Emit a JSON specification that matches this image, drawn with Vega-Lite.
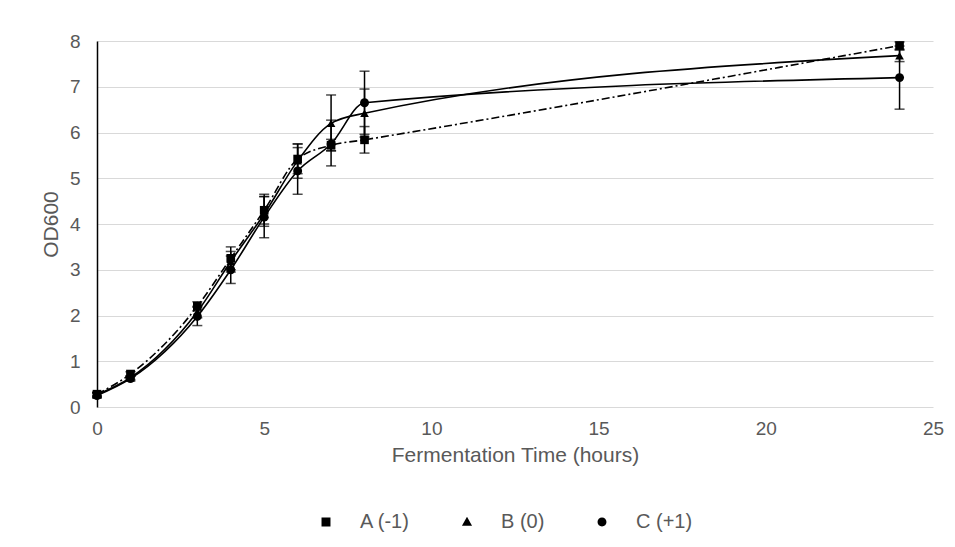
{
  "$schema": "https://vega.github.io/schema/vega-lite/v6.json",
  "width": 836,
  "height": 366,
  "autosize": {"type": "none"},
  "padding": {"left": 97, "top": 41, "right": 22, "bottom": 140},
  "background": "white",
  "config": {
    "view": {"stroke": null},
    "font": "Liberation Sans",
    "axis": {"labelColor": "#595959", "titleColor": "#595959", "labelFontSize": 19, "titleFontSize": 21, "titleFontWeight": "normal", "gridColor": "#d9d9d9", "gridWidth": 1, "labelFlush": false}
  },
  "data": {"values": [
    {"series": "A (-1)", "t": 0, "od": 0.28, "lo": 0.24, "hi": 0.32},
    {"series": "A (-1)", "t": 1, "od": 0.72, "lo": 0.67, "hi": 0.77},
    {"series": "A (-1)", "t": 3, "od": 2.2, "lo": 2.1, "hi": 2.3},
    {"series": "A (-1)", "t": 4, "od": 3.25, "lo": 3.0, "hi": 3.5},
    {"series": "A (-1)", "t": 5, "od": 4.3, "lo": 3.95, "hi": 4.65},
    {"series": "A (-1)", "t": 6, "od": 5.42, "lo": 5.1, "hi": 5.75},
    {"series": "A (-1)", "t": 7, "od": 5.72, "lo": 5.6, "hi": 5.85},
    {"series": "A (-1)", "t": 8, "od": 5.84, "lo": 5.55, "hi": 6.13},
    {"series": "A (-1)", "t": 24, "od": 7.9, "lo": 7.82, "hi": 7.98},
    {"series": "B (0)", "t": 0, "od": 0.27, "lo": 0.22, "hi": 0.32},
    {"series": "B (0)", "t": 1, "od": 0.64, "lo": 0.6, "hi": 0.68},
    {"series": "B (0)", "t": 3, "od": 2.08, "lo": 1.95, "hi": 2.2},
    {"series": "B (0)", "t": 4, "od": 3.18, "lo": 2.95, "hi": 3.4},
    {"series": "B (0)", "t": 5, "od": 4.22, "lo": 4.0, "hi": 4.6},
    {"series": "B (0)", "t": 6, "od": 5.38, "lo": 5.0, "hi": 5.75},
    {"series": "B (0)", "t": 7, "od": 6.2, "lo": 5.6, "hi": 6.82},
    {"series": "B (0)", "t": 8, "od": 6.42, "lo": 5.9, "hi": 6.95},
    {"series": "B (0)", "t": 24, "od": 7.68, "lo": 7.55, "hi": 7.8},
    {"series": "C (+1)", "t": 0, "od": 0.25, "lo": 0.2, "hi": 0.3},
    {"series": "C (+1)", "t": 1, "od": 0.62, "lo": 0.57, "hi": 0.67},
    {"series": "C (+1)", "t": 3, "od": 1.98, "lo": 1.78, "hi": 2.18},
    {"series": "C (+1)", "t": 4, "od": 3.0, "lo": 2.7, "hi": 3.3},
    {"series": "C (+1)", "t": 5, "od": 4.15, "lo": 3.7, "hi": 4.6},
    {"series": "C (+1)", "t": 6, "od": 5.16, "lo": 4.65, "hi": 5.67},
    {"series": "C (+1)", "t": 7, "od": 5.75, "lo": 5.27, "hi": 6.27},
    {"series": "C (+1)", "t": 8, "od": 6.65, "lo": 5.96, "hi": 7.34},
    {"series": "C (+1)", "t": 24, "od": 7.2, "lo": 6.51, "hi": 7.89}
  ]},
  "layer": [
    {
      "mark": {"type": "rule", "color": "black", "strokeWidth": 1.5},
      "encoding": {
        "x": {"field": "t", "type": "quantitative", "title": "Fermentation Time (hours)",
          "scale": {"domain": [0, 25], "nice": false},
          "axis": {"values": [0, 5, 10, 15, 20, 25], "grid": false, "domain": false, "ticks": false, "tickSize": 0, "labelPadding": 12, "titlePadding": 6}},
        "y": {"field": "lo", "type": "quantitative", "title": "OD600",
          "scale": {"domain": [0, 8], "nice": false},
          "axis": {"values": [0, 1, 2, 3, 4, 5, 6, 7, 8], "domainColor": "black", "domainWidth": 1.5, "ticks": false, "tickSize": 0, "labelPadding": 17, "titlePadding": 8}},
        "y2": {"field": "hi"}
      }
    },
    {
      "mark": {"type": "tick", "orient": "horizontal", "color": "black", "size": 10, "thickness": 1.5},
      "encoding": {
        "x": {"field": "t", "type": "quantitative"},
        "y": {"field": "lo", "type": "quantitative"}
      }
    },
    {
      "mark": {"type": "tick", "orient": "horizontal", "color": "black", "size": 10, "thickness": 1.5},
      "encoding": {
        "x": {"field": "t", "type": "quantitative"},
        "y": {"field": "hi", "type": "quantitative"}
      }
    },
    {
      "transform": [{"filter": "datum.series == 'A (-1)'"}],
      "mark": {"type": "line", "interpolate": "monotone", "strokeWidth": 1.6, "color": "black", "strokeDash": [8, 3, 2, 3]},
      "encoding": {
        "x": {"field": "t", "type": "quantitative"},
        "y": {"field": "od", "type": "quantitative"}
      }
    },
    {
      "transform": [{"filter": "datum.series != 'A (-1)'"}],
      "mark": {"type": "line", "interpolate": "monotone", "strokeWidth": 1.6, "color": "black"},
      "encoding": {
        "x": {"field": "t", "type": "quantitative"},
        "y": {"field": "od", "type": "quantitative"},
        "detail": {"field": "series"}
      }
    },
    {
      "transform": [{"filter": "datum.series == 'A (-1)'"}],
      "mark": {"type": "point", "filled": true, "opacity": 1, "color": "black", "shape": "square", "size": 75},
      "encoding": {
        "x": {"field": "t", "type": "quantitative"},
        "y": {"field": "od", "type": "quantitative"}
      }
    },
    {
      "transform": [{"filter": "datum.series == 'B (0)'"}],
      "mark": {"type": "point", "filled": true, "opacity": 1, "color": "black", "shape": "triangle-up", "size": 75},
      "encoding": {
        "x": {"field": "t", "type": "quantitative"},
        "y": {"field": "od", "type": "quantitative"}
      }
    },
    {
      "transform": [{"filter": "datum.series == 'C (+1)'"}],
      "mark": {"type": "point", "filled": true, "opacity": 1, "color": "black", "shape": "circle", "size": 80},
      "encoding": {
        "x": {"field": "t", "type": "quantitative"},
        "y": {"field": "od", "type": "quantitative"}
      }
    },
    {
      "transform": [{"filter": "datum.t < 0"}],
      "mark": {"type": "point", "filled": true, "opacity": 1, "color": "black", "fill": "black", "stroke": "black", "strokeWidth": 1.6},
      "encoding": {
        "x": {"field": "t", "type": "quantitative"},
        "y": {"field": "od", "type": "quantitative"},
        "shape": {"field": "series", "type": "nominal",
          "scale": {"domain": ["A (-1)", "B (0)", "C (+1)"], "range": [
            "M-1,0H1M-0.16,-0.16H0.16V0.16H-0.16Z",
            "M-1,0H1M0,-0.19L0.18,0.13H-0.18Z",
            "M-1,0H1M0.16,0A0.16,0.16,0,1,1,-0.16,0A0.16,0.16,0,1,1,0.16,0Z"]},
          "legend": {
            "title": null, "orient": "none", "legendX": 200, "legendY": 452, "direction": "horizontal",
            "symbolSize": 3136, "symbolStrokeColor": "black", "symbolStrokeWidth": 1.6, "symbolFillColor": "black",
            "labelFontSize": 20, "labelColor": "#595959", "labelOffset": 5, "columnPadding": 25,
            "encode": {"symbols": {
              "fill": {"value": "black"}, "stroke": {"value": "black"}, "opacity": {"value": 1}, "fillOpacity": {"value": 1}, "strokeOpacity": {"value": 1}
            }}
          }},
        "strokeDash": {"field": "series", "type": "nominal",
          "scale": {"domain": ["A (-1)", "B (0)", "C (+1)"], "range": [[6, 4, 2, 4], [1, 0], [1, 0]]}}
      }
    }
  ]
}
